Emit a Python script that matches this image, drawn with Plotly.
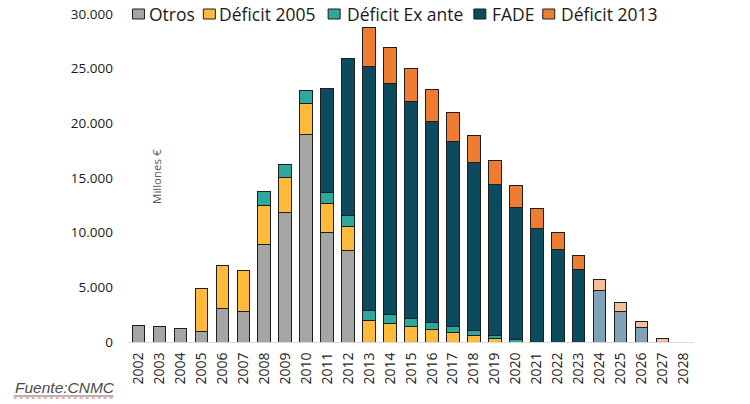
import plotly.graph_objects as go

years = [str(y) for y in range(2002, 2029)]
otros = [1550, 1380, 1190, 950, 3080, 2800, 8960, 11830, 18940, 10040, 8330,
         0, 0, 0, 0, 0, 0, 0, 0, 0, 0, 0, 0, 0, 0, 0, 0]
deficit_2005 = [0, 0, 0, 3900, 3900, 3760, 3480, 3200, 2900, 2590, 2220,
                2010, 1710, 1460, 1160, 890, 610, 340, 0, 0, 0, 0, 0, 0, 0, 0, 0]
deficit_ex_ante = [0, 0, 0, 0, 0, 0, 1280, 1250, 1190, 1030, 980,
                   830, 760, 670, 610, 510, 420, 270, 250, 0, 0, 0, 0, 0, 0, 0, 0]
fade = [0, 0, 0, 0, 0, 0, 0, 0, 0, 9550, 14390,
        22380, 21160, 19830, 18390, 16900, 15380, 13820, 12040, 10400, 8480, 6590,
        4730, 2770, 1370, 0, 0]
deficit_2013 = [0, 0, 0, 0, 0, 0, 0, 0, 0, 0, 0,
                3510, 3300, 3080, 2930, 2720, 2470, 2190, 2030, 1800, 1550, 1280,
                1030, 830, 520, 300, 0]
series_names = ["Otros", "Déficit 2005", "Déficit Ex ante", "FADE", "Déficit 2013"]
first_projected_year = 2024

W, H = 750, 404
ML, MR, MT, MB = 127.5, 55.5, 14, 62
PW, PH = W - ML - MR, H - MT - MB

def px(x):
    return (x - ML) / PW

def py(y):
    return (H - MB - y) / PH

def nz(vals):
    return [v if v else None for v in vals]

projected = [int(y) >= first_projected_year for y in years]
base_colors = ["#A5A5A5", "#FDBA3B", "#2EA89B", "#0C4A60", "#EE7D31"]
light_colors = [None, None, None, "#7FA3B4", "#F6BE97"]
values = [otros, deficit_2005, deficit_ex_ante, fade, deficit_2013]

fig = go.Figure()
for name, vals, c, lc in zip(series_names, values, base_colors, light_colors):
    cols = [(lc if (p and lc) else c) for p in projected]
    fig.add_trace(go.Bar(
        name=name, x=years, y=nz(vals),
        marker=dict(color=cols, line=dict(color="#1E1E1E", width=1)),
    ))

# legend (drawn manually to match the original layout)
legend_sq_x = [132, 203, 328, 474, 543]
legend_txt_x = [147, 217, 345, 490, 559]
shapes = []
annotations = []
for name, c, sx, tx in zip(series_names, base_colors, legend_sq_x, legend_txt_x):
    shapes.append(dict(type="rect", xref="paper", yref="paper",
                       x0=px(sx), x1=px(sx + 12), y0=py(19), y1=py(9),
                       fillcolor=c, line=dict(color="#1E1E1E", width=1)))
    annotations.append(dict(text=name, xref="paper", yref="paper",
                            x=px(tx), xanchor="left", y=py(13.5), yanchor="middle",
                            showarrow=False,
                            font=dict(size=17.5, color="#1a1a1a")))

annotations += [
    dict(text="Millones €", textangle=-90, xref="paper", yref="paper",
         x=px(146), y=py(176), showarrow=False,
         font=dict(size=11.5, color="#595959")),
    dict(text="<i>Fuente:CNMC</i>", xref="paper", yref="paper",
         x=px(12), xanchor="left", y=py(388), yanchor="middle",
         showarrow=False, font=dict(size=15.5, color="#4a4a4a", family="Liberation Sans")),
]
shapes += [
    dict(type="line", xref="paper", yref="paper",
         x0=px(13), x1=px(113), y0=py(396), y1=py(396),
         line=dict(color="#6a6a6a", width=1)),
    dict(type="line", xref="paper", yref="paper",
         x0=px(13), x1=px(113), y0=py(398), y1=py(398),
         line=dict(color="#E06060", width=1, dash="dot")),
]

fig.update_layout(
    width=W, height=H,
    barmode="stack", bargap=0.4,
    separators=",.",
    paper_bgcolor="white", plot_bgcolor="white",
    font=dict(family="Open Sans", color="#1a1a1a"),
    margin=dict(l=ML, r=MR, t=MT, b=MB, autoexpand=False),
    showlegend=False,
    xaxis=dict(type="category", range=[-0.5, 26.5], tickangle=-90,
               tickfont=dict(size=14, color="#1a1a1a"),
               showline=True, linecolor="#D9D9D9", linewidth=1,
               showgrid=False, ticks="", ticklabelstandoff=4),
    yaxis=dict(range=[0, 30000], tickvals=[0, 5000, 10000, 15000, 20000, 25000, 30000],
               tickformat=",d", tickfont=dict(size=13.5, color="#1a1a1a"),
               showgrid=False, zeroline=False, showline=False, ticks="",
               ticklabelstandoff=14),
    annotations=annotations,
    shapes=shapes,
)

fig.write_html("out.html")
